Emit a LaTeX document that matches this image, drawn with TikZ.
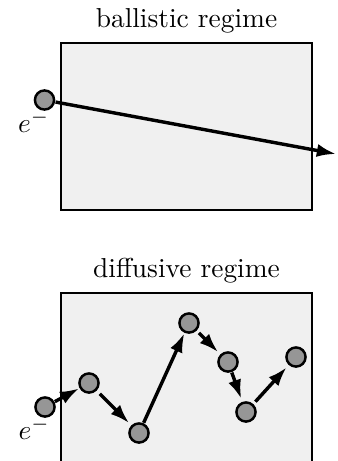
\documentclass[tikz,border=0pt]{standalone}
\usepackage{tikz}
\usetikzlibrary{arrows.meta,positioning}
\definecolor{boxgray}{RGB}{240,240,240}
\definecolor{ballgray}{RGB}{150,150,150}

\begin{document}
\begin{tikzpicture}[x=0.365pt, y=-0.365pt, >={Latex[length=7pt,width=4.8pt]},
    box/.style={draw=black, line width=0.4pt, fill=boxgray},
    ball/.style={circle, draw, line width=0.9pt, fill=ballgray, minimum size=7pt, inner sep=0pt, outer sep=0.6pt},
    hop/.style={->, line width=1.25pt},
    elabel/.style={anchor=north east, inner sep=1pt, xshift=3pt, yshift=1.5pt},
  ]
  \useasboundingbox (0,0) rectangle (337,461);
  % ballistic
  \draw[box] (61,43) rectangle (312,210);
  \node (tbal) [above] at (186.5,43) {ballistic regime};
  \node (e0) [ball] at (44.5,100) {};
  \node (l0) [elabel] at (e0.south) {$e^-$};
  \coordinate (out) at (336,154);
  \draw[hop] (e0) -- (out);
  % diffusive
  \draw[box] (61,293) rectangle (312,475);
  \node (tdif) [above] at (186.5,293) {diffusive regime};
  \foreach \n/\x/\y in {1/45/407, 2/89/383, 3/139/433, 4/189/323, 5/228/362, 6/246/412, 7/296/357}
    \node (d\n) [ball] at (\x,\y) {};
  \node (l1) [elabel] at (d1.south) {$e^-$};
  \draw[hop] (d1) -- (d2);
  \draw[hop, shorten <=1.5pt, shorten >=1pt] (d2) -- (d3);
  \draw[hop] (d3) -- (d4);
  \draw[hop, shorten <=1pt, shorten >=1pt] (d4) -- (d5);
  \draw[hop, shorten >=1pt] (d5) -- (d6);
  \draw[hop, shorten <=1pt, shorten >=1pt] (d6) -- (d7);
\end{tikzpicture}
\end{document}
